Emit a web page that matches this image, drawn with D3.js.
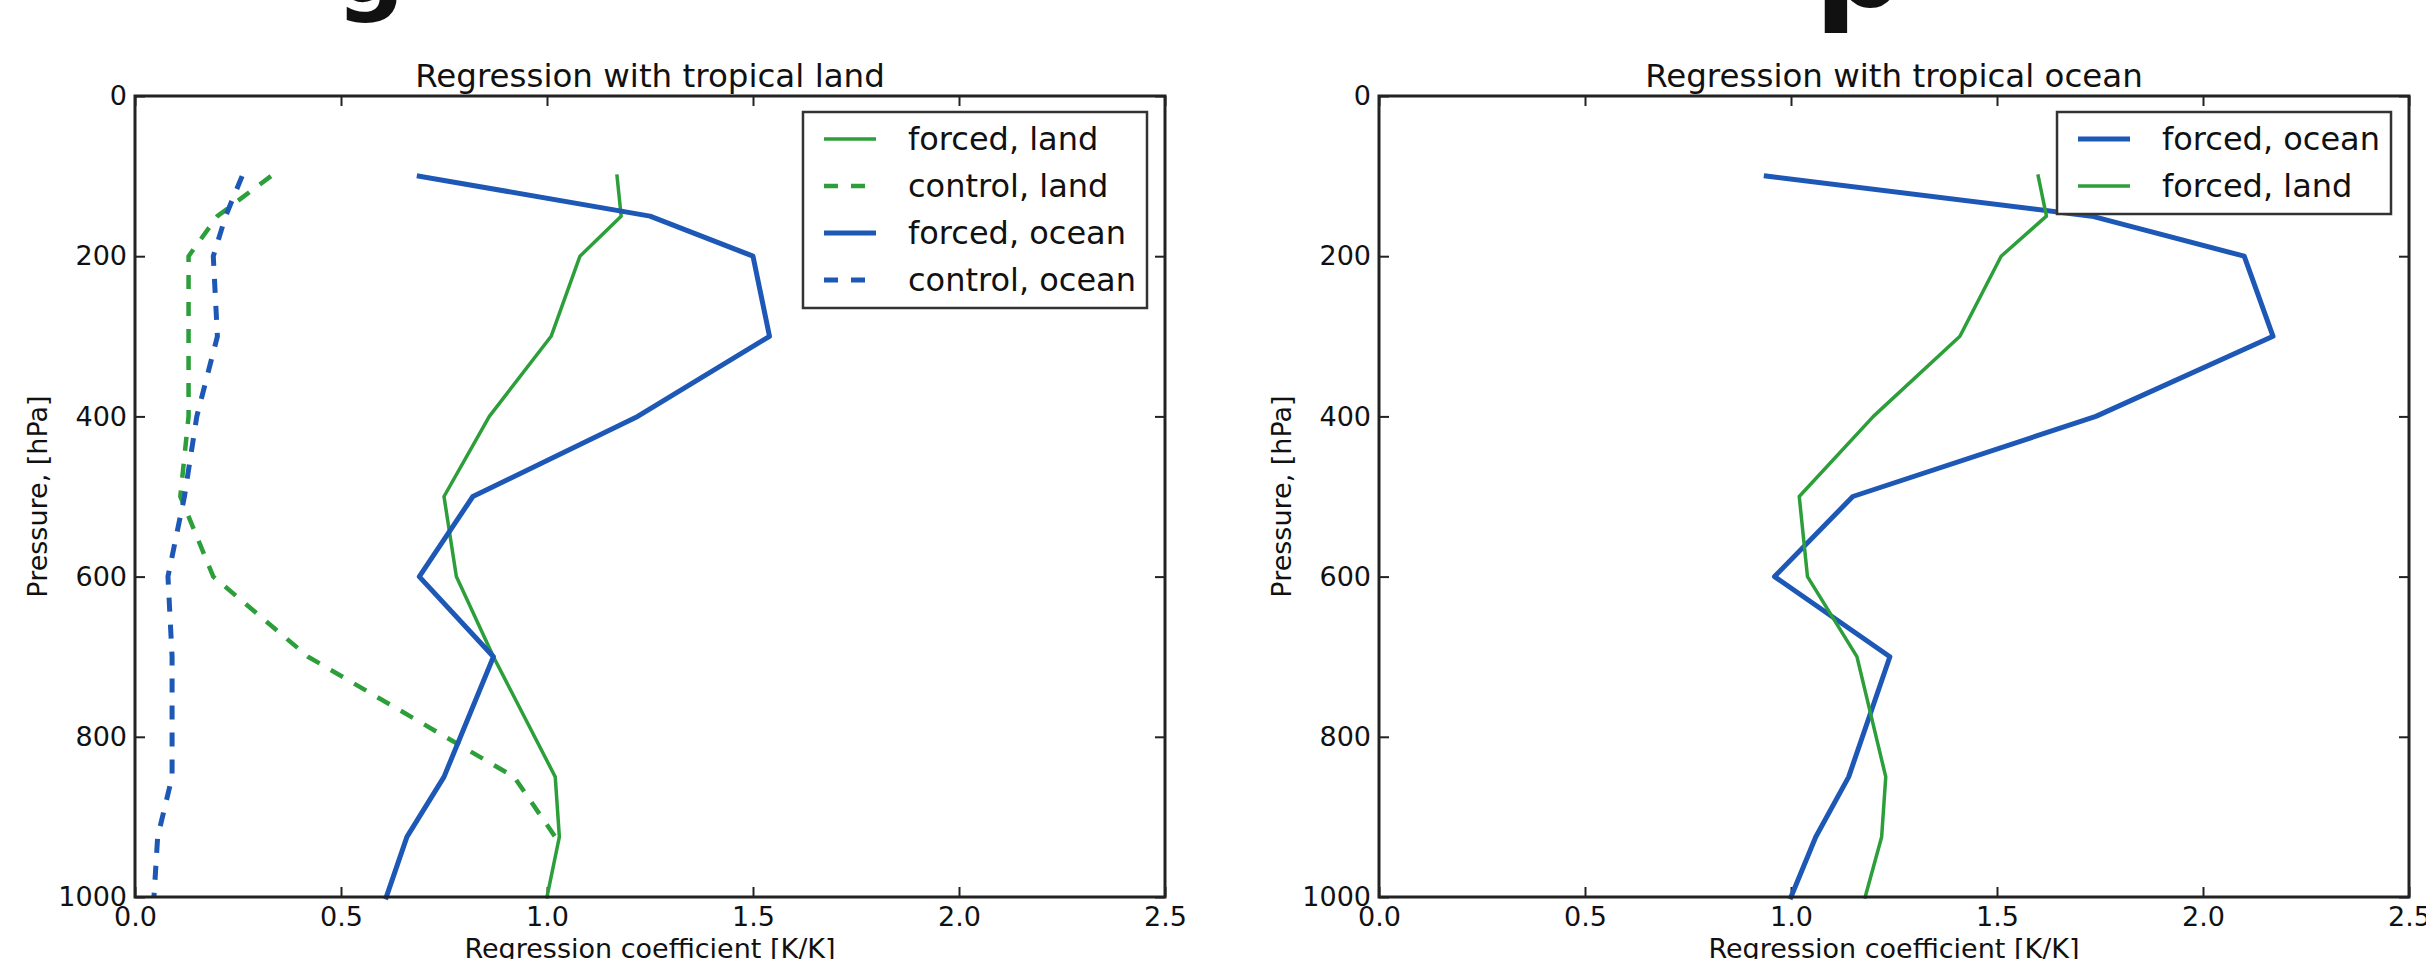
<!DOCTYPE html>
<html>
<head>
<meta charset="utf-8">
<script src="https://cdn.jsdelivr.net/npm/d3@7"></script>
<style>
body { margin: 0; background: #fff; }
svg text { font-family: "DejaVu Sans", sans-serif; fill: #111; }
</style>
</head>
<body>
<div id="chart"></div>
<script>
const levels = [100, 150, 200, 300, 400, 500, 600, 700, 850, 925, 1000]

// regression with tropical land
const land_forced_land   = [1.17, 1.18, 1.08, 1.01, 0.86, 0.75, 0.78, 0.87, 1.02, 1.03, 1.00]
const land_control_land  = [0.33, 0.20, 0.13, 0.13, 0.13, 0.11, 0.19, 0.42, 0.92, 1.02, null]
const land_forced_ocean  = [0.69, 1.25, 1.50, 1.54, 1.22, 0.82, 0.69, 0.87, 0.75, 0.66, 0.61]
const land_control_ocean = [0.26, 0.22, 0.19, 0.20, 0.15, 0.12, 0.08, 0.09, 0.09, 0.055, 0.046]

// regression with tropical ocean
const ocean_forced_ocean = [0.94, 1.73, 2.10, 2.17, 1.74, 1.15, 0.96, 1.24, 1.14, 1.06, 1.00]
const ocean_forced_land  = [1.60, 1.62, 1.51, 1.41, 1.20, 1.02, 1.04, 1.16, 1.23, 1.22, 1.18]

const x_ticks = [0, 0.5, 1.0, 1.5, 2.0, 2.5]
const y_ticks = [0, 200, 400, 600, 800, 1000]

const green = '#2c9e3a'
const blue = '#1d58b6'

const width = 2426, height = 959

let svg = d3.select('#chart').append('svg').attr('width', width).attr('height', height)

// cut-off heading letters at the very top
svg.append('text').attr('x', 336).attr('y', 2).style('font-size', '96px').style('font-weight', 'bold').text('g')
svg.append('text').attr('x', 1814).attr('y', 6).style('font-size', '128px').style('font-weight', 'bold').text('p')

const styles = {
    forced_land:   {color: green, w: 3.5, dash: null},
    control_land:  {color: green, w: 4.5, dash: '14,13'},
    forced_ocean:  {color: blue,  w: 5,   dash: null},
    control_ocean: {color: blue,  w: 5,   dash: '14,13'},
}

const draw_panel = (left, right, title, series) => {
    const top = 96, bottom = 897
    const x = d3.scaleLinear().domain([0, 2.5]).range([left, right])
    const y = d3.scaleLinear().domain([0, 1000]).range([top, bottom])
    let g = svg.append('g')

    const tick_style = sel => {
        sel.select('.domain').remove()
        sel.selectAll('.tick line').attr('stroke', '#222').attr('stroke-width', 2)
        sel.selectAll('.tick text').style('font-size', '27px').attr('fill', '#111')
    }

    g.append('g').attr('transform', 'translate(0,' + bottom + ')')
        .call(d3.axisBottom(x).tickValues(x_ticks).tickFormat(d3.format('.1f')).tickSize(-10).tickPadding(10))
        .call(tick_style)
    g.append('g').attr('transform', 'translate(0,' + top + ')')
        .call(d3.axisTop(x).tickValues(x_ticks).tickFormat('').tickSize(-10))
        .call(tick_style)
    g.append('g').attr('transform', 'translate(' + left + ',0)')
        .call(d3.axisLeft(y).tickValues(y_ticks).tickFormat(d3.format('d')).tickSize(-10).tickPadding(8))
        .call(tick_style)
    g.append('g').attr('transform', 'translate(' + right + ',0)')
        .call(d3.axisRight(y).tickValues(y_ticks).tickFormat('').tickSize(-10))
        .call(tick_style)

    const line = d3.line()
        .defined(d => d.v != null)
        .x(d => x(d.v))
        .y(d => y(d.p))

    series.forEach(s => {
        const st = styles[s.kind]
        g.append('path')
            .datum(levels.map((p, i) => ({p: p, v: s.values[i]})))
            .attr('d', line)
            .attr('fill', 'none')
            .attr('stroke', st.color)
            .attr('stroke-width', st.w)
            .attr('stroke-linejoin', 'round')
            .attr('stroke-linecap', st.dash ? 'butt' : 'square')
            .attr('stroke-dasharray', st.dash)
    })

    g.append('rect')
        .attr('x', left).attr('y', top)
        .attr('width', right - left).attr('height', bottom - top)
        .attr('fill', 'none').attr('stroke', '#222').attr('stroke-width', 3)

    g.append('text')
        .attr('x', (left + right) / 2).attr('y', 87)
        .attr('text-anchor', 'middle')
        .style('font-size', '32.5px')
        .text(title)

    g.append('text')
        .attr('x', (left + right) / 2).attr('y', 958)
        .attr('text-anchor', 'middle')
        .style('font-size', '27px')
        .text('Regression coefficient [K/K]')

    g.append('text')
        .attr('transform', 'translate(' + (left - 88) + ',' + ((top + bottom) / 2) + ') rotate(-90)')
        .attr('text-anchor', 'middle')
        .style('font-size', '27px')
        .text('Pressure, [hPa]')

    // legend, anchored to the upper right corner
    let lg = g.append('g')
    let box = lg.append('rect')
    let max_len = 0
    series.forEach((s, i) => {
        const st = styles[s.kind]
        const cy = 27 + i * 47
        lg.append('line')
            .attr('x1', 21).attr('x2', 73).attr('y1', cy).attr('y2', cy)
            .attr('stroke', st.color).attr('stroke-width', st.w)
            .attr('stroke-dasharray', st.dash)
        let t = lg.append('text')
            .attr('x', 105).attr('y', cy).attr('dy', '.35em')
            .style('font-size', '32px')
            .text(s.label)
        max_len = Math.max(max_len, t.node().getComputedTextLength())
    })
    const bw = 105 + max_len + 11
    const bh = series.length * 47 + 8
    box.attr('width', bw).attr('height', bh)
        .attr('fill', '#fff').attr('stroke', '#333').attr('stroke-width', 2.5)
    lg.attr('transform', 'translate(' + (right - 18 - bw) + ',' + (top + 16) + ')')
}

draw_panel(135, 1165, 'Regression with tropical land', [
    {kind: 'forced_land', label: 'forced, land', values: land_forced_land},
    {kind: 'control_land', label: 'control, land', values: land_control_land},
    {kind: 'forced_ocean', label: 'forced, ocean', values: land_forced_ocean},
    {kind: 'control_ocean', label: 'control, ocean', values: land_control_ocean},
])

draw_panel(1379, 2409, 'Regression with tropical ocean', [
    {kind: 'forced_ocean', label: 'forced, ocean', values: ocean_forced_ocean},
    {kind: 'forced_land', label: 'forced, land', values: ocean_forced_land},
])
</script>
</body>
</html>
